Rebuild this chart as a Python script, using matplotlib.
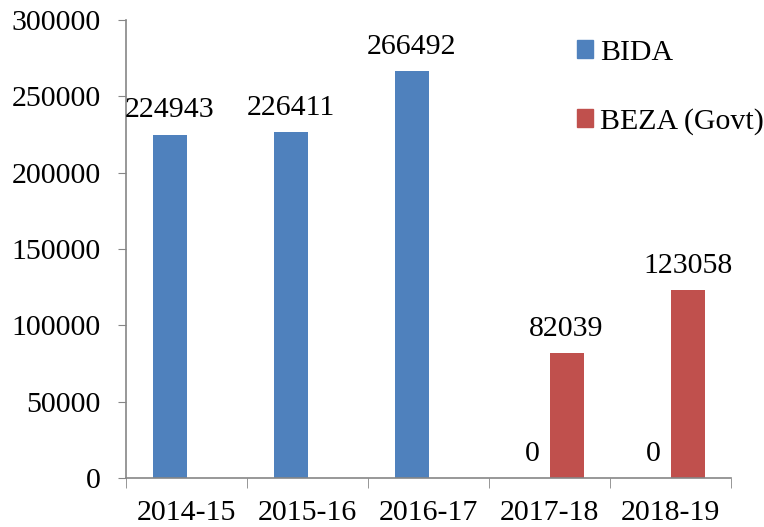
import matplotlib.pyplot as plt
import matplotlib.patches as mpatches
import numpy as np

plt.rcParams['font.family'] = ['Liberation Serif', 'DejaVu Serif']

# data
years = ['2014-15', '2015-16', '2016-17', '2017-18', '2018-19']
bida = [224943, 226411, 266492, 0, 0]
beza = [None, None, None, 82039, 123058]

blue = '#4F81BD'
red = '#C0504D'
axis_grey = '#868686'
fs = 21.5

fig = plt.figure(figsize=(7.64, 5.27), dpi=100)
ax = fig.add_axes([0.165, 0.093, 0.792, 0.869])

x = np.arange(len(years))
w = 0.28
beza_vals = [v if v is not None else 0 for v in beza]
b1 = ax.bar(x - w / 2, bida, w, color=blue)
b2 = ax.bar(x + w / 2, beza_vals, w, color=red)

ax.bar_label(b1, labels=[str(v) for v in bida], padding=8, fontsize=fs)
ax.bar_label(b2, labels=['' if v is None else str(v) for v in beza], padding=8, fontsize=fs)

ax.set_xlim(-0.5, len(years) - 0.5)
ax.set_ylim(0, 300000)
ax.set_yticks(np.arange(0, 300001, 50000))
ax.tick_params(axis='y', labelsize=fs, length=6, color=axis_grey, pad=12)

ax.set_xticks(x)
ax.set_xticklabels(years)
ax.set_xticks(np.arange(-0.5, len(years)), minor=True)
ax.tick_params(axis='x', which='major', length=0, labelsize=fs, pad=16)
ax.tick_params(axis='x', which='minor', length=7, color=axis_grey)

for s in ['top', 'right']:
    ax.spines[s].set_visible(False)
for s in ['left', 'bottom']:
    ax.spines[s].set_color(axis_grey)
    ax.spines[s].set_linewidth(1.2)

handles = [mpatches.Patch(color=blue, label='BIDA'),
           mpatches.Patch(color=red, label='BEZA (Govt)')]
fig.legend(handles=handles, loc='upper left', bbox_to_anchor=(0.739, 0.947),
           frameon=False, fontsize=fs, handlelength=0.55, handleheight=0.55,
           handletextpad=0.25, labelspacing=1.42, borderaxespad=0)

fig.savefig('out.png', dpi=100)
